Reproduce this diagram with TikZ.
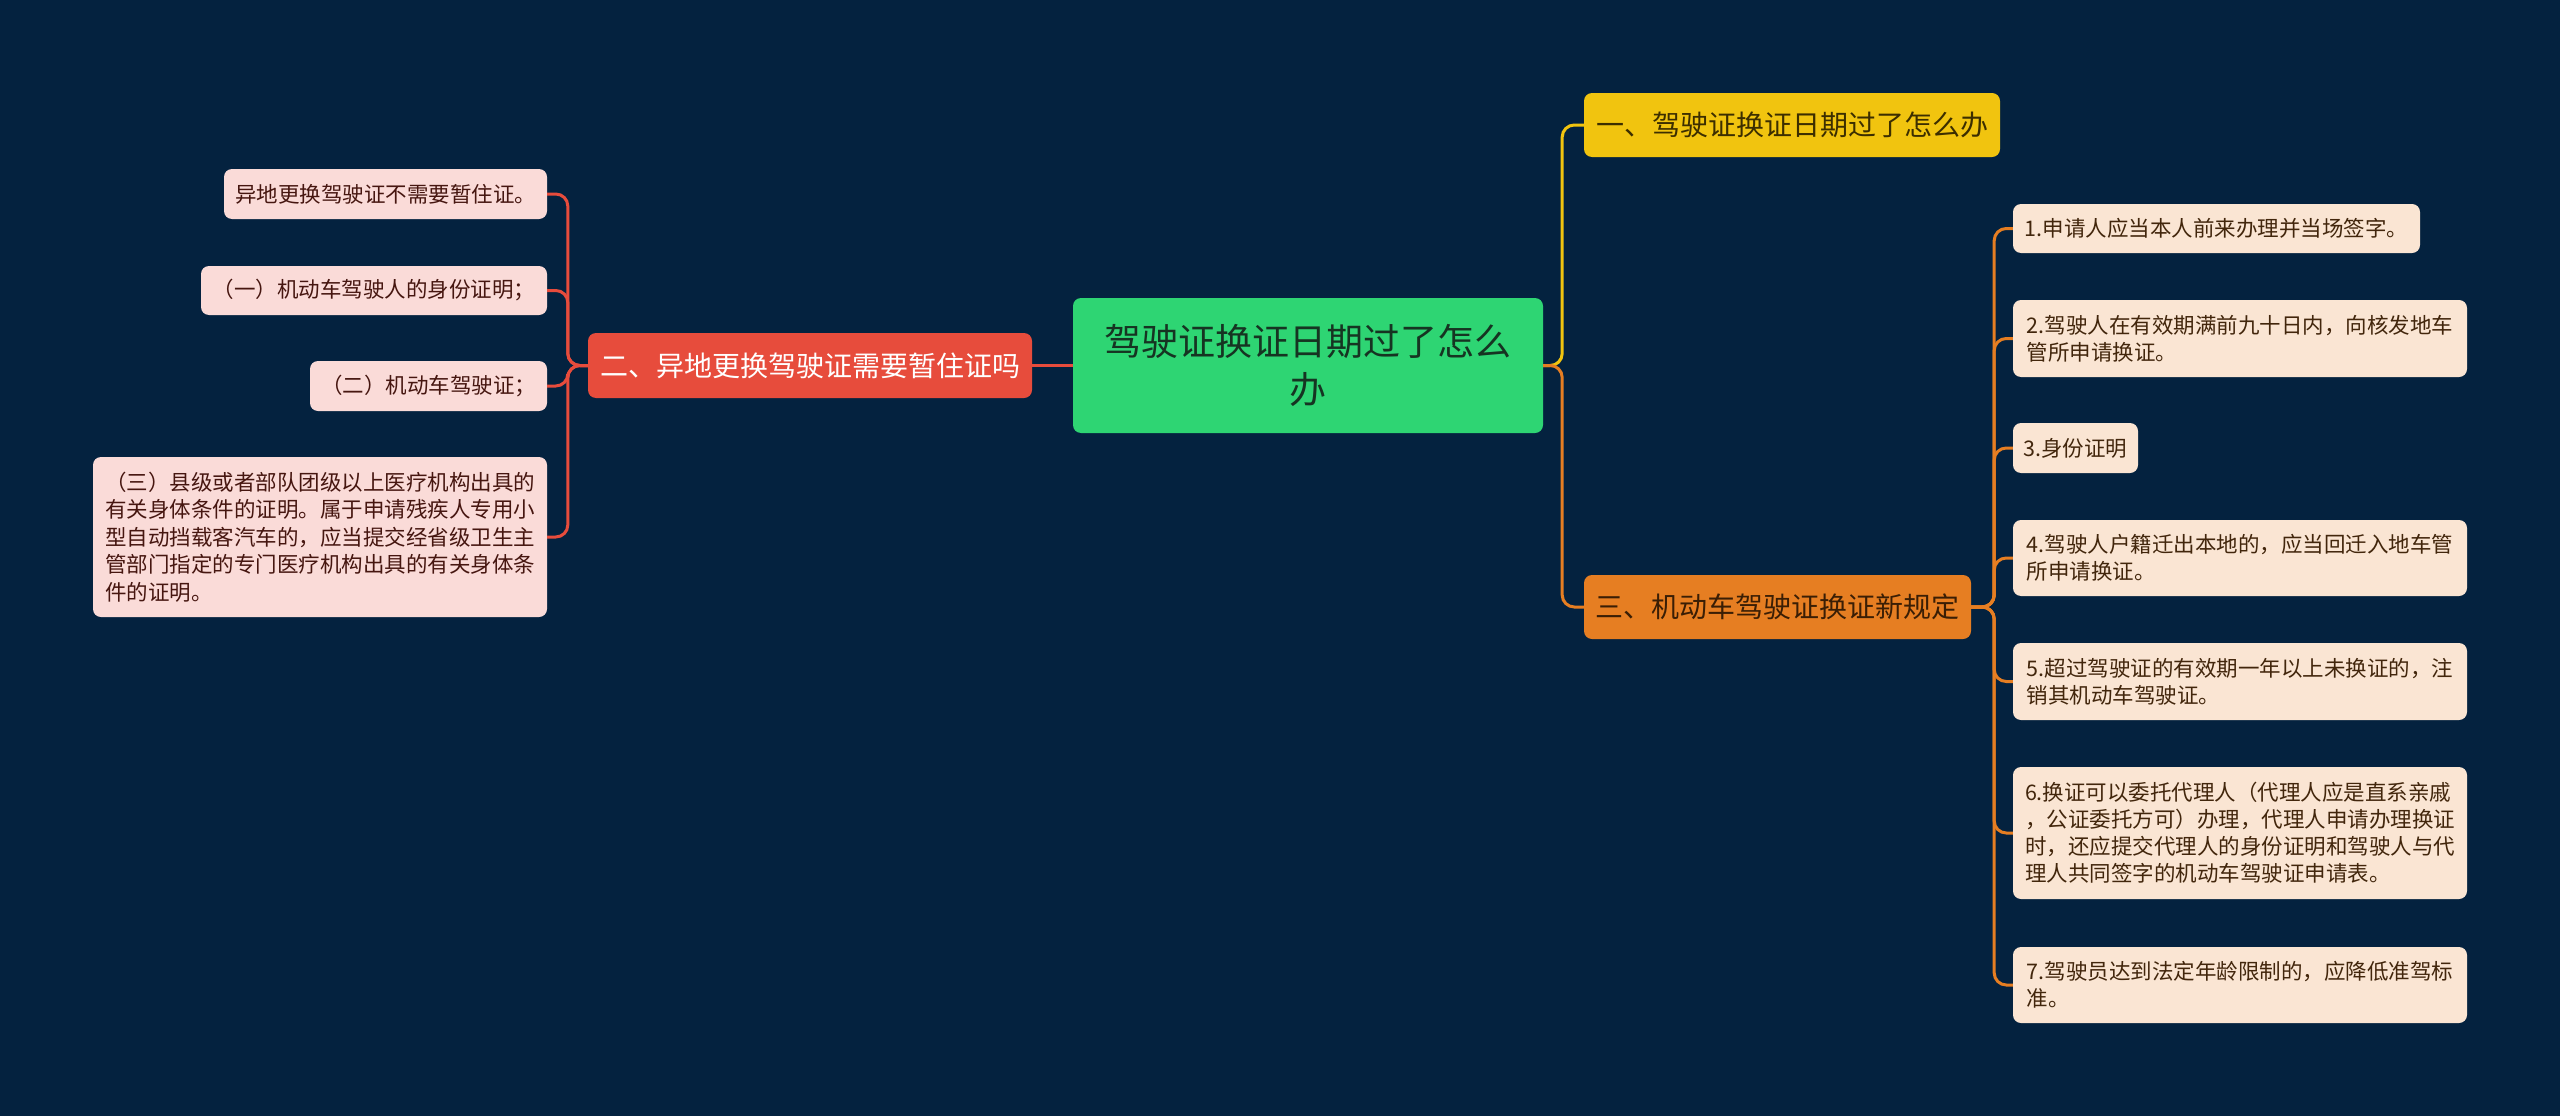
\documentclass[tikz,border=0pt]{standalone}
\usepackage{fontspec}
\setmainfont{Noto Sans CJK SC}
\definecolor{bg}{RGB}{4,34,63}
\definecolor{cgreen}{RGB}{46,213,115}
\definecolor{cyellow}{RGB}{241,196,15}
\definecolor{cred}{RGB}{231,76,60}
\definecolor{corange}{RGB}{230,126,34}
\definecolor{leafpink}{RGB}{250,219,216}
\definecolor{leafcream}{RGB}{250,229,211}
\definecolor{txtred}{RGB}{70,22,16}
\definecolor{txtbrown}{RGB}{66,38,12}
\definecolor{txtgreen}{RGB}{22,52,34}
\definecolor{txtyellow}{RGB}{60,46,0}
\definecolor{txtorange}{RGB}{58,30,5}
\tikzset{
  basebox/.style={rounded corners=8pt, inner xsep=0pt, inner ysep=0pt, anchor=center},
  leafL/.style={basebox, fill=leafpink, text=txtred, align=left, font=\fontsize{21.5}{27.5}\selectfont},
  leafR/.style={basebox, fill=leafcream, text=txtbrown, align=left, font=\fontsize{21.5}{27}\selectfont},
  mainbox/.style={basebox, font=\fontsize{28}{34}\selectfont},
  rootbox/.style={basebox, fill=cgreen, text=txtgreen, align=center, font=\fontsize{37}{48}\selectfont},
  link/.style={line width=3pt, rounded corners=12pt}
}
\begin{document}
\begin{tikzpicture}[x=1pt,y=-1pt]
\useasboundingbox (0,0) rectangle (2560,1116);
\fill[bg] (0,0) rectangle (2560,1116);

% root
\node[rootbox, minimum width=470pt, minimum height=135pt] (root) at (1308,365.5) {驾驶证换证日期过了怎么\\办};

% main topics
\node[mainbox, fill=cred, text=white, minimum width=444pt, minimum height=65pt] (red) at (810,365.5) {二、异地更换驾驶证需要暂住证吗};
\node[mainbox, fill=cyellow, text=txtyellow, minimum width=416pt, minimum height=64pt] (yel) at (1792,125) {一、驾驶证换证日期过了怎么办};
\node[mainbox, fill=corange, text=txtorange, minimum width=387pt, minimum height=64pt] (ora) at (1777.5,607) {三、机动车驾驶证换证新规定};

% left leaves
\node[leafL, minimum width=323pt, minimum height=50pt] (L1) at (385.5,194) {异地更换驾驶证不需要暂住证。};
\node[leafL, minimum width=346pt, minimum height=49pt] (L2) at (374,290.5) {（一）机动车驾驶人的身份证明；};
\node[leafL, minimum width=237pt, minimum height=50pt] (L3) at (428.5,386) {（二）机动车驾驶证；};
\node[leafL, minimum width=454pt, minimum height=160pt] (L4) at (320,537) {（三）县级或者部队团级以上医疗机构出具的\\有关身体条件的证明。属于申请残疾人专用小\\型自动挡载客汽车的，应当提交经省级卫生主\\管部门指定的专门医疗机构出具的有关身体条\\件的证明。};

% right leaves
\node[leafR, minimum width=407pt, minimum height=49pt] (R1) at (2216.5,228.5) {1.申请人应当本人前来办理并当场签字。};
\node[leafR, minimum width=454pt, minimum height=77pt] (R2) at (2240,338.5) {2.驾驶人在有效期满前九十日内，向核发地车\\管所申请换证。};
\node[leafR, minimum width=125pt, minimum height=50pt] (R3) at (2075.5,448) {3.身份证明};
\node[leafR, minimum width=454pt, minimum height=76pt] (R4) at (2240,558) {4.驾驶人户籍迁出本地的，应当回迁入地车管\\所申请换证。};
\node[leafR, minimum width=454pt, minimum height=77pt] (R5) at (2240,681.5) {5.超过驾驶证的有效期一年以上未换证的，注\\销其机动车驾驶证。};
\node[leafR, minimum width=454pt, minimum height=132pt] (R6) at (2240,833) {6.换证可以委托代理人（代理人应是直系亲戚\\，公证委托方可）办理，代理人申请办理换证\\时，还应提交代理人的身份证明和驾驶人与代\\理人共同签字的机动车驾驶证申请表。};
\node[leafR, minimum width=454pt, minimum height=76pt] (R7) at (2240,985) {7.驾驶员达到法定年龄限制的，应降低准驾标\\准。};

% connectors root -> topics
\draw[link, cred] (root.west) -- (red.east);
\draw[link, cyellow] (root.east) -- ++(19,0) |- (yel.west);
\draw[link, corange] (root.east) -- ++(19,0) |- (ora.west);

% red -> left leaves
\foreach \n in {L1,L2,L3,L4}{
  \draw[link, cred] (red.west) -- ++(-20,0) |- (\n.east);
}
% orange -> right leaves
\foreach \n in {R1,R2,R3,R4,R5,R6,R7}{
  \draw[link, corange] (ora.east) -- ++(23,0) |- (\n.west);
}
\end{tikzpicture}
\end{document}
